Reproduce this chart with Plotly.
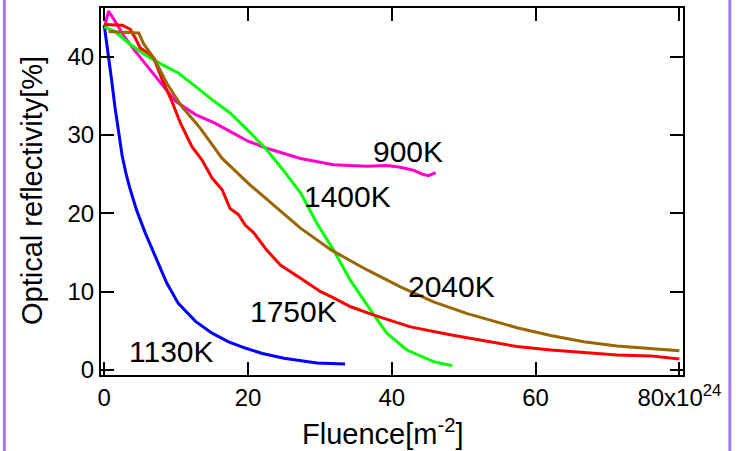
import plotly.graph_objects as go

# Data (Fluence in 1e24 m^-2, reflectivity in %)
x_900 = [0, 0.6, 1.5, 2.9, 4.3, 6.2, 8.0, 9.9, 12.7, 15.4, 18, 20, 22.6, 25, 27.3, 29.5, 31.9, 34, 36.5, 39.3, 41, 43, 44.2, 45.1, 46.1]
y_900 = [43.6, 45.8, 44.5, 42.4, 40.7, 38.5, 36.4, 34.3, 32.6, 31.5, 30.2, 29.2, 28.3, 27.6, 27.0, 26.6, 26.2, 26.1, 26.0, 26.1, 25.9, 25.5, 25.0, 24.8, 25.2]

x_1130 = [0, 0.5, 1.0, 1.5, 2.0, 2.5, 3.0, 3.5, 4.5, 5.7, 7.1, 8.7, 10.3, 12.7, 15, 17.3, 19.6, 22, 25, 29.6, 33.5]
y_1130 = [44, 40.8, 37.2, 33.5, 30.2, 27.3, 25.2, 23.4, 20.4, 17.5, 14.5, 11.1, 8.5, 6.2, 4.7, 3.6, 2.8, 2.1, 1.5, 0.9, 0.75]

x_1400 = [0, 1.5, 3.4, 5.7, 8, 10.3, 12.7, 15, 17.5, 20.3, 22.6, 24.9, 27.3, 29.6, 31.9, 34.2, 37, 39.3, 42.1, 45.8, 48.4]
y_1400 = [43.8, 43.2, 41.7, 40.2, 39, 37.9, 36.2, 34.5, 32.8, 30.3, 28.1, 25.5, 22.6, 18.7, 15.3, 11.5, 7.7, 4.7, 2.55, 1.06, 0.55]

x_1750 = [0, 2.5, 3.6, 4.3, 5.0, 6.2, 6.9, 8.0, 9.4, 10.6, 12.2, 13.6, 15.0, 16.4, 17.5, 18.7, 19.6, 20.8, 22.6, 24.5, 27.3, 30.1, 31.9, 34.2, 37.5, 42.6, 48.1, 51.9, 57.4, 62.1, 66.7, 71.3, 76, 80]
y_1750 = [44.1, 44.0, 43.5, 42.4, 41.1, 40.4, 39.8, 37.2, 34.3, 31.5, 28.5, 26.8, 24.5, 23.0, 20.6, 19.8, 18.5, 17.5, 15.3, 13.4, 11.7, 10.0, 9.2, 8.1, 7.0, 5.5, 4.5, 3.9, 3.0, 2.55, 2.25, 1.9, 1.8, 1.4]

x_2040 = [0.6, 2.5, 4.8, 5.5, 6.9, 8.7, 10.8, 12.4, 13.4, 16.4, 20.3, 24.9, 27.3, 31.6, 36.5, 41.2, 45.8, 50.5, 52.8, 57.4, 62.1, 66.7, 71.3, 76, 80]
y_2040 = [43.2, 43.1, 43.0, 41.6, 39.8, 36.6, 33.6, 31.9, 30.8, 27.0, 23.6, 20.0, 18.1, 15.3, 12.8, 10.6, 8.7, 7.2, 6.6, 5.4, 4.4, 3.6, 3.07, 2.7, 2.47]

series_names = ["900K", "1130K", "1400K", "1750K", "2040K"]
series_colors = ["#ff00cc", "#0000ff", "#00ff00", "#ff0000", "#996600"]
label_x = [42.3, 9.3, 33.9, 26.3, 48.3]
label_y = [27.9, 2.3, 22.2, 7.5, 10.7]

x_tickvals = [0, 20, 40, 60, 80]
x_ticktext = ["0", "20", "40", "60", "80x10<sup>24</sup>"]
y_tickvals = [0, 10, 20, 30, 40]

x_title = "Fluence[m<sup>-2</sup>]"
y_title = "Optical reflectivity[%]"

FONT = "Arial, Liberation Sans, sans-serif"

fig = go.Figure()
xs = [x_900, x_1130, x_1400, x_1750, x_2040]
ys = [y_900, y_1130, y_1400, y_1750, y_2040]
for name, color, x, y in zip(series_names, series_colors, xs, ys):
    fig.add_trace(go.Scatter(x=x, y=y, mode="lines", name=name,
                             line=dict(color=color, width=3), showlegend=False))

for name, lx, ly in zip(series_names, label_x, label_y):
    fig.add_annotation(x=lx, y=ly, text=name, showarrow=False,
                       xanchor="center", yanchor="middle",
                       font=dict(family=FONT, size=30, color="black"))

# axis titles placed as annotations for precise positioning
fig.add_annotation(xref="paper", yref="paper", x=0.4848, y=-0.155, text=x_title,
                   showarrow=False, xanchor="center", yanchor="middle",
                   font=dict(family=FONT, size=29, color="black"))
fig.add_annotation(xref="paper", yref="paper", x=-0.1186, y=0.504, text=y_title,
                   textangle=-90, showarrow=False, xanchor="center", yanchor="middle",
                   font=dict(family=FONT, size=29, color="black"))

# purple side borders
for px in [-0.166, 1.0805]:
    fig.add_shape(type="line", xref="paper", yref="paper",
                  x0=px, x1=px, y0=-0.25, y1=1.05,
                  line=dict(color="#a07cf0", width=3))

axis_common = dict(showline=True, linecolor="black", linewidth=2, mirror="ticks",
                   ticks="inside", ticklen=13, tickwidth=2, tickcolor="black",
                   showgrid=False, zeroline=False,
                   tickfont=dict(family=FONT, size=24, color="black"))

fig.update_xaxes(range=[-0.45, 80.5], tickvals=x_tickvals, ticktext=x_ticktext, **axis_common)
fig.update_yaxes(range=[-0.64, 46.2], tickvals=y_tickvals, **axis_common)

fig.update_layout(width=740, height=451, plot_bgcolor="white", paper_bgcolor="white",
                  margin=dict(l=101, r=57, t=8, b=76, autoexpand=False))

fig.write_html("out.html", config={"displayModeBar": False},
               post_script="document.body.style.margin='0';document.body.style.overflow='hidden';")
